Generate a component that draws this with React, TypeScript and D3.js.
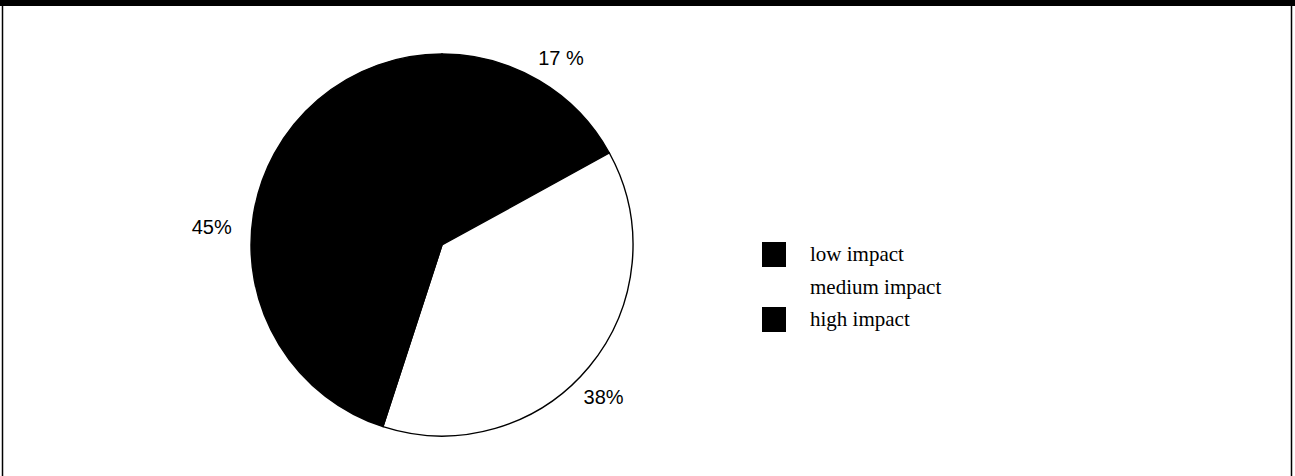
import React from "react";
import * as d3 from "d3";

const categories = ["low impact", "medium impact", "high impact"];
const values = [17, 38, 45];
const labels = ["17 %", "38%", "45%"];
const fills = ["#000000", "#ffffff", "#000000"];

const W = 1295;
const H = 476;
const cx = 442;
const cy = 245;
const R = 191;
const labelR = 224;
const labelNudge: [number, number][] = [
  [5, 6],
  [-11, 9],
  [-9, 17],
];

export default function App() {
  const pie = d3
    .pie<number>()
    .sort(null)
    .startAngle(0)
    .endAngle(2 * Math.PI)(values);
  const arc = d3.arc<d3.PieArcDatum<number>>().innerRadius(0).outerRadius(R);
  const labelArc = d3
    .arc<d3.PieArcDatum<number>>()
    .innerRadius(labelR)
    .outerRadius(labelR);

  const legendY = d3
    .scalePoint<string>()
    .domain(categories)
    .range([261, 326]);

  return (
    <div style={{ position: "absolute", left: 0, top: 0 }}>
      <svg width={W} height={H} style={{ display: "block", background: "#fff" }}>
        <rect x={0} y={0} width={W} height={6} fill="#000" />
        <line x1={2.5} x2={2.5} y1={0} y2={H} stroke="#000" strokeWidth={1.5} />
        <line x1={W - 3.5} x2={W - 3.5} y1={0} y2={H} stroke="#000" strokeWidth={1.5} />
        <g transform={`translate(${cx},${cy})`}>
          {pie.map((d, i) => (
            <path
              key={i}
              d={arc(d) || ""}
              fill={fills[i]}
              stroke="#000"
              strokeWidth={1.4}
            />
          ))}
          {pie.map((d, i) => {
            const [x, y] = labelArc.centroid(d);
            return (
              <text
                key={"l" + i}
                x={x + labelNudge[i][0]}
                y={y + labelNudge[i][1]}
                textAnchor="middle"
                dominantBaseline="central"
                fontFamily="'Liberation Sans', Arial, sans-serif"
                fontSize={20}
                fill="#000"
              >
                {labels[i]}
              </text>
            );
          })}
        </g>
        <g>
          {categories.map((c, i) => {
            const y = legendY(c) as number;
            return (
              <g key={c}>
                {fills[i] !== "#ffffff" && (
                  <rect x={762} y={y - 19} width={24} height={25} fill={fills[i]} />
                )}
                <text
                  x={810}
                  y={y}
                  fontFamily="'Liberation Serif', 'Times New Roman', serif"
                  fontSize={21}
                  fill="#000"
                >
                  {c}
                </text>
              </g>
            );
          })}
        </g>
      </svg>
    </div>
  );
}
